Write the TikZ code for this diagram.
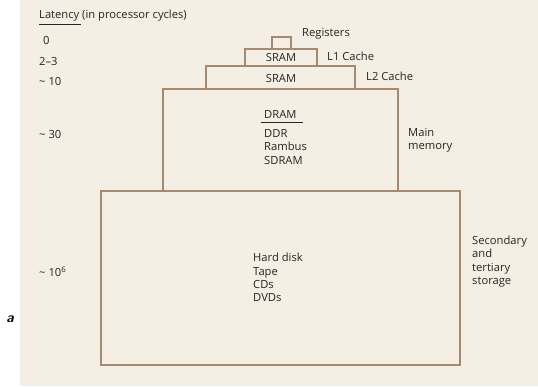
\documentclass[tikz,border=0pt]{standalone}
\usepackage{fontspec}
\setmainfont{Open Sans}
\begin{document}
\begin{tikzpicture}[x=1pt,y=-1pt,
  lvl/.style={draw=linec,line width=1.2pt},
  lbl/.style={font=\fontsize{11.2}{13.4}\selectfont,text=txt,inner sep=0pt,anchor=west,align=left},
  ctr/.style={font=\fontsize{11.2}{13.4}\selectfont,text=txt,inner sep=0pt,anchor=center}]
\definecolor{bg}{HTML}{F5EEE5}
\definecolor{linec}{HTML}{A58A72}
\definecolor{txt}{HTML}{2A2420}
\useasboundingbox (0,0) rectangle (538,386);
\fill[white] (0,0) rectangle (538,386);
\fill[bg] (20,0) rectangle (538,386);
% boxes
\draw[lvl] (272,49) -- (272,37) -- (291,37) -- (291,49);
\draw[lvl] (245,49) rectangle (317,66);
\draw[lvl] (206,66) rectangle (355,89);
\draw[lvl] (163,89) rectangle (398,191);
\draw[lvl] (101,191) rectangle (460,365);
% latency column
\node[lbl] (lat) at (39,16) {Latency (in processor cycles)};
\draw[txt,line width=0.5pt] (39,24) -- (81,24);
\node[lbl] (l0) at (43,40) {0};
\node[lbl] (l1) at (39,61) {2–3};
\node[lbl] (l2) at (39,81) {\textasciitilde\ 10};
\node[lbl] (l3) at (39,134) {\textasciitilde\ 30};
\node[lbl] (l4) at (39,272) {\textasciitilde\ 10\textsuperscript{6}};
% right labels
\node[lbl] (tr) at (302,34) {Registers};
\node[lbl] (t1) at (327,56) {L1 Cache};
\node[lbl] (t2) at (366,76) {L2 Cache};
\node[lbl] (tm) at (408,140.5) {Main\\memory};
\node[lbl] (ts) at (472,261.5) {Secondary\\and\\tertiary\\storage};
% inside
\node[ctr] (s1) at (281,57.5) {SRAM};
\node[ctr] (s2) at (281,78.5) {SRAM};
\node[lbl] (dram) at (264,114) {DRAM};
\draw[txt,line width=0.6pt] (261,122) -- (303,122);
\node[lbl] (dd) at (264,147) {DDR\\Rambus\\SDRAM};
\node[lbl] (hd) at (253,277.5) {Hard disk\\Tape\\CDs\\DVDs};
\node[font=\fontsize{14}{14}\sffamily\bfseries\itshape\selectfont,inner sep=0pt] (fa) at (10,319) {a};
\end{tikzpicture}
\end{document}
